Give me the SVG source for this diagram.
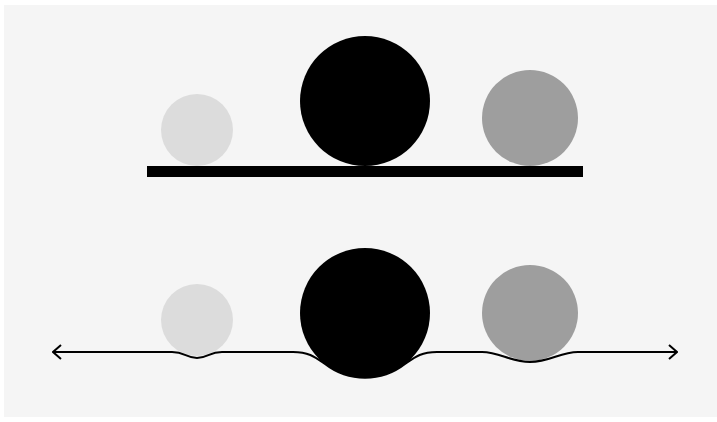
<svg xmlns="http://www.w3.org/2000/svg" width="717" height="422" viewBox="0 0 717 422">
<style>
.light{fill:#dcdcdc}.dark{fill:#000}.mid{fill:#9e9e9e}
.conn{fill:none;stroke:#000;stroke-width:2}
</style>
<defs>
<marker id="arr" viewBox="0 0 10 16" refX="9" refY="8" markerWidth="10" markerHeight="16" markerUnits="userSpaceOnUse" orient="auto-start-reverse">
<path d="M1,1 L9,8 L1,15" fill="none" stroke="#000" stroke-width="2"/>
</marker>
</defs>
<rect x="4" y="5" width="713" height="412" fill="#f5f5f5"/>
<g id="top-scene">
<g id="top-light"><circle class="light" cx="197" cy="130" r="36"/></g>
<g id="top-dark"><circle class="dark" cx="365" cy="101" r="65"/></g>
<g id="top-mid"><circle class="mid" cx="530" cy="118" r="48"/></g>
<g id="top-bar"><rect x="147" y="166" width="436" height="11" fill="#000"/></g>
</g>
<g id="bottom-scene">
<g id="bot-light"><circle class="light" cx="197" cy="320" r="36"/></g>
<g id="bot-dark"><circle class="dark" cx="365" cy="313" r="65"/></g>
<g id="bot-mid"><circle class="mid" cx="530" cy="313" r="48"/></g>
</g>
<g id="connectors">
<path class="conn" marker-start="url(#arr)" marker-end="url(#arr)" d="M53,352 H172 C185,352 186,358 197,358 C208,358 209,352 222,352 H293 C309,352 315,357 325,364 A65,65 0 0 0 405,364 C415,357 421,352 437,352 H482 C500,352 510,362 530,362 C550,362 560,352 578,352 H677"/>
</g>
</svg>
